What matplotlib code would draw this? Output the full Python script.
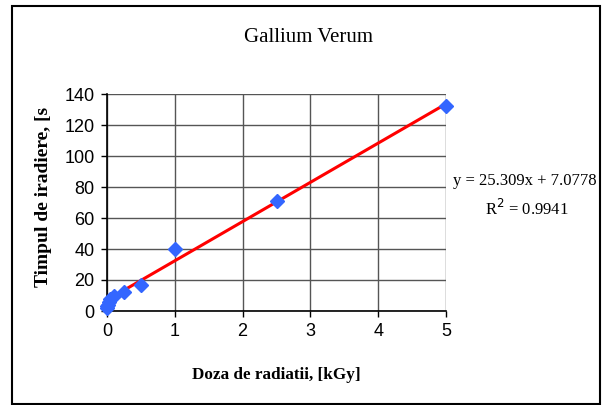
import numpy as np
from matplotlib import pyplot as plt
from matplotlib.patches import Rectangle

# doses (kGy) and irradiation times (s)
doza = [0, 0.005, 0.01, 0.025, 0.05, 0.1, 0.25, 0.5, 1, 2.5, 5]
timp = [2, 3, 4, 6, 8, 10, 12, 17, 40, 71, 132]

# linear trendline as printed on the chart
slope = 25.309
intercept = 7.0778
r2 = 0.9941

x_ticks = [0, 1, 2, 3, 4, 5]
y_ticks = [0, 20, 40, 60, 80, 100, 120, 140]

fig = plt.figure(figsize=(6.03, 4.05), dpi=100)
ax = fig.add_axes([107 / 603, 1 - 311 / 405, 339 / 603, 217 / 405])

# frame around the whole chart
fig.patches.append(Rectangle((12 / 603, 1 - 404 / 405), 588 / 603, 398 / 405,
                             transform=fig.transFigure, fill=False,
                             edgecolor="black", linewidth=1.5))

ax.set_xlim(0, 5)
ax.set_ylim(0, 140)
ax.set_xticks(x_ticks)
ax.set_yticks(y_ticks)
ax.grid(True, color="#555555", linewidth=1)
ax.set_axisbelow(True)
for side in ["top", "right"]:
    ax.spines[side].set_visible(False)
for side in ["left", "bottom"]:
    ax.spines[side].set_color("black")
    ax.spines[side].set_linewidth(1.2)
ax.tick_params(labelsize=13, length=4, width=1, direction="out", pad=5)
for lab in ax.get_xticklabels() + ax.get_yticklabels():
    lab.set_family("Liberation Sans")

xs = np.array([0, 5])
ax.plot(xs, slope * xs + intercept, color="red", linewidth=2.2, zorder=3, clip_on=False)
ax.plot(doza, timp, linestyle="none", marker="D", markersize=7.5,
        color="#3366FF", zorder=4, clip_on=False)

fig.text(308 / 603, 1 - 37 / 405, "Gallium Verum", ha="center", va="center",
         family="Liberation Serif", fontsize=15)
fig.text(276 / 603, 1 - 375 / 405, "Doza de radiatii, [kGy]", ha="center", va="center",
         family="Liberation Serif", fontweight="bold", fontsize=12.3)
fig.text(44 / 603, 1 - 197 / 405, "Timpul de iradiere, [s", ha="center", va="center",
         rotation=90, family="Liberation Serif", fontweight="bold", fontsize=14)

fig.text(525 / 603, 1 - 181 / 405, f"y = {slope}x + {intercept}", ha="center", va="center",
         family="Liberation Serif", fontsize=12)
fig.text(527 / 603, 1 - 209 / 405, f"R$^2$ = {r2}", ha="center", va="center",
         family="Liberation Serif", fontsize=12)

fig.savefig("out.png", dpi=100)
